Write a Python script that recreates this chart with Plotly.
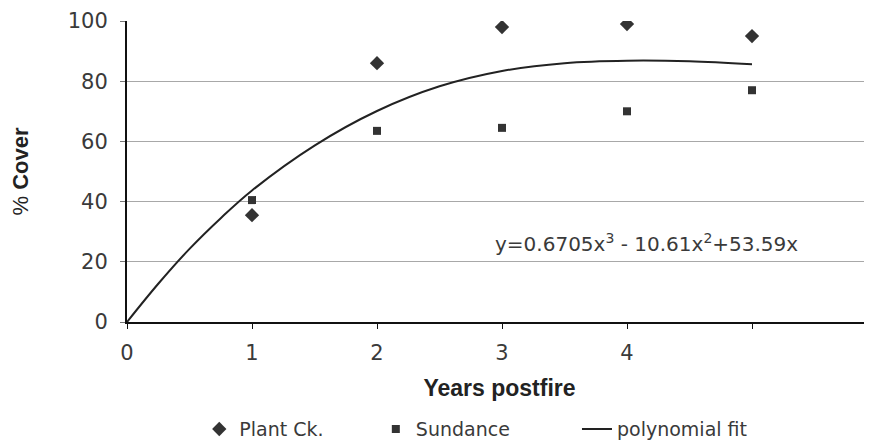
import plotly.graph_objects as go

years = [1, 2, 3, 4, 5]
plant_ck = [35.5, 86, 98, 99, 95]
sundance = [40.5, 63.5, 64.5, 70, 77]

fit_x = [0, 0.25, 0.5, 0.75, 1, 1.5, 2, 2.5, 3, 3.5, 4, 4.5, 5]
fit_y = [0, 12.7, 24.3, 34.5, 43.7, 58.6, 70.1, 78.3, 83.4, 86.0, 86.8, 86.6, 85.6]

x_tickvals = [0, 1, 2, 3, 4, 5]
x_ticktext = ["0", "1", "2", "3", "4", ""]
y_tickvals = [0, 20, 40, 60, 80, 100]

TICKFONT = "DejaVu Sans"
BOLDFONT = "Liberation Sans"

fig = go.Figure()
fig.add_trace(go.Scatter(
    x=years, y=plant_ck, mode="markers", name="Plant Ck.", legend="legend",
    marker=dict(symbol="diamond", size=11, color="#333333"),
))
fig.add_trace(go.Scatter(
    x=years, y=sundance, mode="markers", name="Sundance", legend="legend2",
    marker=dict(symbol="square", size=8, color="#333333"),
))
fig.add_trace(go.Scatter(
    x=fit_x, y=fit_y, mode="lines", name="polynomial fit", legend="legend3",
    line=dict(color="#222222", width=2, shape="spline"),
))

fig.add_annotation(
    x=2.93, y=26.2, xref="x", yref="y", xanchor="left", yanchor="middle",
    text="y=0.6705x<sup>3</sup> - 10.61x<sup>2</sup>+53.59x",
    showarrow=False, font=dict(family=TICKFONT, size=20, color="#3a3a3a"),
)

legend_common = dict(
    orientation="h", xanchor="left", y=-0.356, yanchor="middle",
    font=dict(family=TICKFONT, size=19, color="#3a3a3a"),
    itemwidth=30, bgcolor="rgba(0,0,0,0)",
)

# page body has an 8px default margin, so the figure is 8px smaller
fig.update_layout(
    width=864, height=432,
    margin=dict(l=119, r=0, t=13, b=118, autoexpand=False),
    paper_bgcolor="white", plot_bgcolor="white",
    showlegend=True,
    legend=dict(x=0.097, **legend_common),
    legend2=dict(x=0.334, **legend_common),
    legend3=dict(x=0.604, **legend_common),
    xaxis=dict(
        range=[0, 5.96], tickvals=x_tickvals, ticktext=x_ticktext,
        automargin=False,
        showgrid=False, zeroline=False,
        showline=True, linecolor="#111111", linewidth=2,
        ticks="outside", ticklen=5, tickwidth=1, tickcolor="#111111",
        ticklabelstandoff=6,
        tickfont=dict(family=TICKFONT, size=21, color="#3a3a3a"),
        title=dict(text="<b>Years postfire</b>", standoff=16,
                   font=dict(family=BOLDFONT, size=23, color="#222222")),
    ),
    yaxis=dict(
        range=[0, 100], tickvals=y_tickvals,
        automargin=False,
        showgrid=True, gridcolor="#a8a8a8", gridwidth=1,
        zeroline=False,
        showline=True, linecolor="#111111", linewidth=2,
        ticks="outside", ticklen=5, tickwidth=1, tickcolor="#777777",
        ticklabelstandoff=8,
        tickfont=dict(family=TICKFONT, size=21, color="#3a3a3a"),
        title=dict(text="% <b>Cover</b>", standoff=37,
                   font=dict(family=BOLDFONT, size=22, color="#222222")),
    ),
)

fig.write_html("out.html")
